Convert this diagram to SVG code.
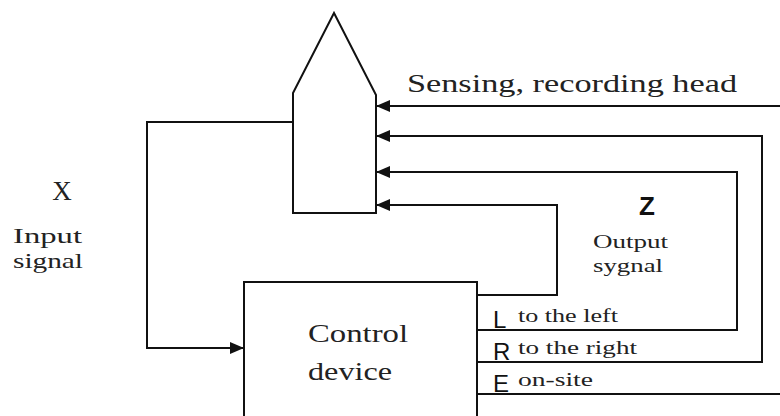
<svg xmlns="http://www.w3.org/2000/svg" width="780" height="416" viewBox="0 0 780 416">
<style>
.ln{fill:none;stroke:#111;stroke-width:2;stroke-linejoin:miter}
.sf{font-family:"Liberation Serif","DejaVu Serif",serif;fill:#222}
.ss{font-family:"Liberation Sans","DejaVu Sans",sans-serif;fill:#111}
</style>
<defs>
<marker id="ah" viewBox="0 0 14 12" refX="14" refY="6" markerWidth="14" markerHeight="12" markerUnits="userSpaceOnUse" orient="auto">
<path d="M0,0 L14,6 L0,12 Z" fill="#111"/>
</marker>
</defs>
<rect width="780" height="416" fill="#fff"/>
<g id="head">
<path class="ln" d="M334,13 L293,93 L293,213 L376,213 L376,95 Z"/>
<text class="sf" x="407" y="92" font-size="25" textLength="330" lengthAdjust="spacingAndGlyphs">Sensing, recording head</text>
</g>
<g id="control">
<path class="ln" d="M244,418 L244,282 L477,282 L477,418"/>
<text class="sf" x="308" y="342" font-size="25" textLength="100" lengthAdjust="spacingAndGlyphs">Control</text>
<text class="sf" x="308" y="380" font-size="25" textLength="84" lengthAdjust="spacingAndGlyphs">device</text>
</g>
<g id="input">
<text class="sf" x="62" y="200" font-size="27" text-anchor="middle">X</text>
<text class="sf" x="13" y="243" font-size="22" textLength="69" lengthAdjust="spacingAndGlyphs">Input</text>
<text class="sf" x="13" y="268" font-size="22" textLength="70" lengthAdjust="spacingAndGlyphs">signal</text>
</g>
<g id="output">
<text class="ss" x="647" y="215" font-size="26" font-weight="bold" text-anchor="middle">Z</text>
<text class="sf" x="593" y="248" font-size="19" textLength="75" lengthAdjust="spacingAndGlyphs">Output</text>
<text class="sf" x="593" y="272" font-size="19" textLength="70" lengthAdjust="spacingAndGlyphs">sygnal</text>
</g>
<g id="connectors">
<path class="ln" d="M293,122 L147,122 L147,348 L244,348" marker-end="url(#ah)"/>
<path class="ln" d="M780,106 L376,106" marker-end="url(#ah)"/>
<path class="ln" d="M477,362 L762,362 L762,136 L376,136" marker-end="url(#ah)"/>
<path class="ln" d="M477,330 L737,330 L737,172 L376,172" marker-end="url(#ah)"/>
<path class="ln" d="M477,295 L557,295 L557,205 L376,205" marker-end="url(#ah)"/>
<path class="ln" d="M477,394 L780,394"/>
</g>
<g id="labels">
<text class="ss" x="493" y="328" font-size="24">L</text>
<text class="sf" x="518" y="322" font-size="19" textLength="100" lengthAdjust="spacingAndGlyphs">to the left</text>
<text class="ss" x="493" y="360" font-size="24">R</text>
<text class="sf" x="518" y="354" font-size="19" textLength="119" lengthAdjust="spacingAndGlyphs">to the right</text>
<text class="ss" x="493" y="392" font-size="24">E</text>
<text class="sf" x="518" y="386" font-size="19" textLength="75" lengthAdjust="spacingAndGlyphs">on-site</text>
</g>
</svg>
